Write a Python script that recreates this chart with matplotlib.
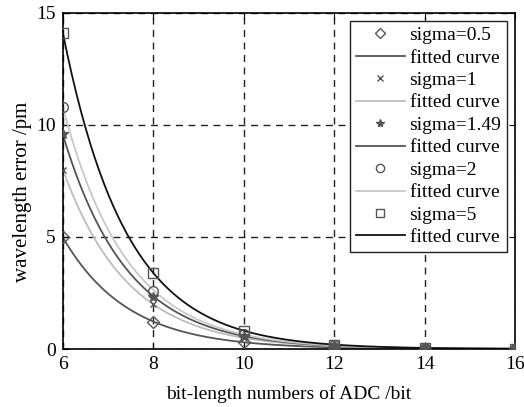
import numpy as np
import matplotlib
matplotlib.use("Agg")
import matplotlib.pyplot as plt

plt.rcParams['font.family'] = ['Liberation Serif', 'DejaVu Serif']

bits = [6, 8, 10, 12, 14, 16]
err_s05 = [5.0, 1.2, 0.30, 0.08, 0.02, 0.005]
err_s1 = [8.0, 2.0, 0.50, 0.12, 0.03, 0.008]
err_s149 = [9.6, 2.3, 0.58, 0.15, 0.04, 0.010]
err_s2 = [10.8, 2.6, 0.65, 0.16, 0.04, 0.010]
err_s5 = [14.1, 3.4, 0.80, 0.20, 0.05, 0.012]
labels = ["sigma=0.5", "sigma=1", "sigma=1.49", "sigma=2", "sigma=5"]

series = [err_s05, err_s1, err_s149, err_s2, err_s5]
markers = ['D', 'x', '*', 'o', 's']
msizes = [6, 5, 7, 7, 7]
line_colors = ['#555555', '#bdbdbd', '#555555', '#c8c8c8', '#111111']

fig = plt.figure(figsize=(5.24, 4.07), dpi=100)
ax = fig.add_axes([0.120, 0.1425, 0.863, 0.826])

xs = np.linspace(6, 16, 300)
handles = []
for vals, m, ms, lc, lab in zip(series, markers, msizes, line_colors, labels):
    x = np.array(bits, float)
    y = np.array(vals, float)
    # exponential fit y = a*exp(b x) via weighted log-linear least squares
    b, loga = np.polyfit(x, np.log(y), 1, w=np.sqrt(y))
    fit = np.exp(loga + b * xs)
    hm, = ax.plot(bits, vals, linestyle='none', marker=m, markersize=ms,
                  markerfacecolor='none' if m not in ('x', '*') else '#555555',
                  markeredgecolor='#555555', markeredgewidth=1.0, label=lab, zorder=3)
    hl, = ax.plot(xs, fit, color=lc, lw=1.3, label='fitted curve', zorder=2)
    handles += [hm, hl]

ax.set_xlim(6, 16)
ax.set_ylim(0, 15)
ax.set_xticks([6, 8, 10, 12, 14, 16])
ax.set_yticks([0, 5, 10, 15])
ax.grid(True, color='#222222', linestyle=(0, (5, 4)), linewidth=1.0)
ax.tick_params(labelsize=14, direction='in', length=4, pad=5, top=True, right=True)
for s in ax.spines.values():
    s.set_linewidth(1.2)
ax.set_xlabel('bit-length numbers of ADC /bit', fontsize=14, labelpad=9)
ax.set_ylabel('wavelength error /pm', fontsize=15)
ax.yaxis.set_label_coords(-0.068, 0.467)

leg = ax.legend(handles=handles, loc='upper right', fontsize=14, frameon=True,
                fancybox=False, edgecolor='#222222', framealpha=1,
                labelspacing=0.25, handlelength=2.5, handletextpad=0.25,
                borderaxespad=0.4, borderpad=0.3, markerscale=0.85)
leg.get_frame().set_linewidth(1.0)

fig.savefig('out.png', dpi=100)
